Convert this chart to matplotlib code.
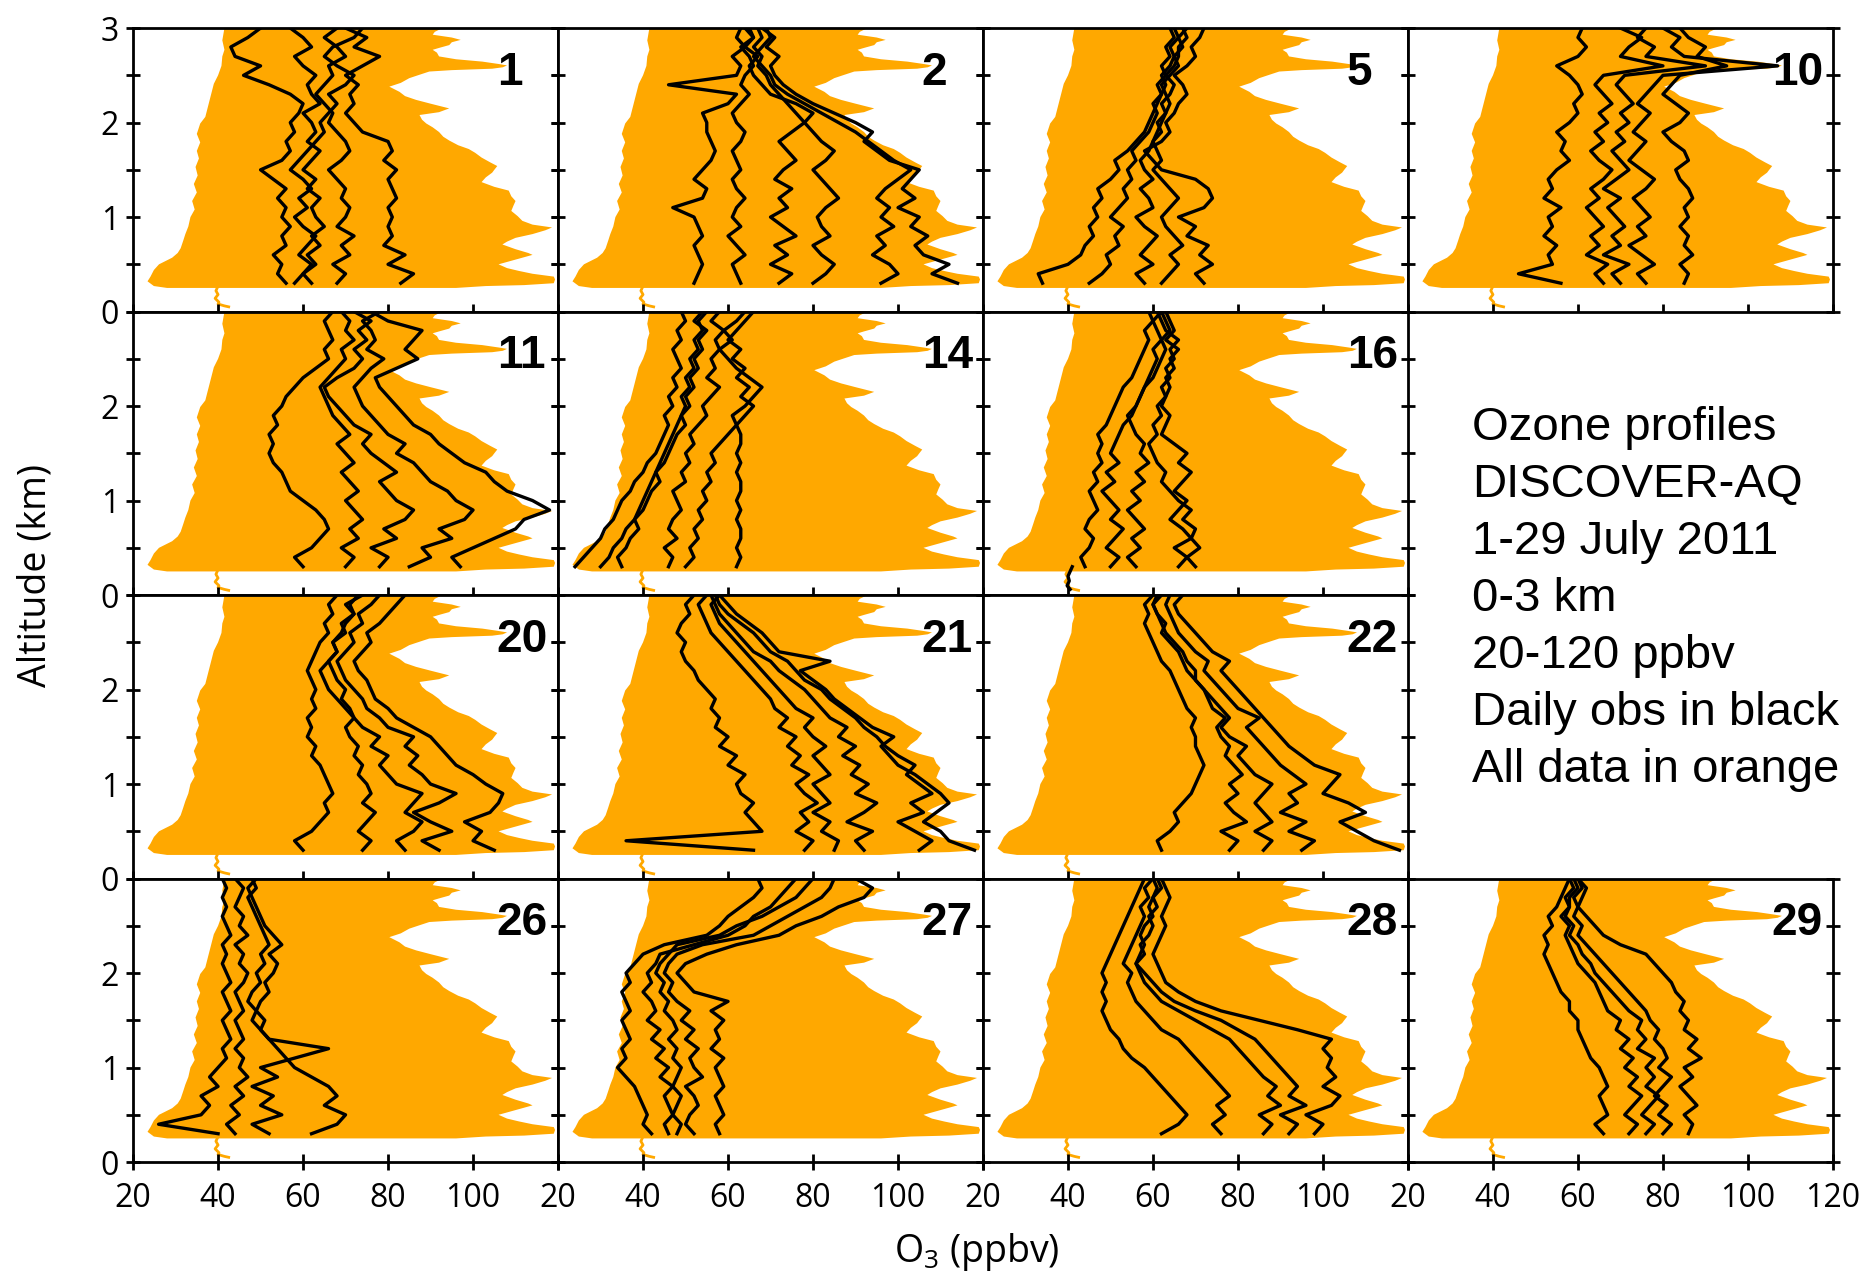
import matplotlib
matplotlib.use("Agg")
import matplotlib.pyplot as plt
from matplotlib.ticker import MultipleLocator

# ---------------- data ----------------
ALT = [0.3, 0.4, 0.5, 0.6, 0.7, 0.8, 0.9, 1.0, 1.1, 1.2, 1.3, 1.4, 1.5, 1.6,
       1.7, 1.8, 1.9, 2.0, 2.1, 2.2, 2.3, 2.4, 2.5, 2.6, 2.7, 2.8, 2.9, 3.0]

# all-data envelope (orange)
LEFT_ALT = [0.25, 0.27, 0.32, 0.37, 0.44, 0.50, 0.57, 0.62, 0.67, 0.75,
            0.82, 0.90, 1.00, 1.08, 1.17, 1.26, 1.35, 1.44, 1.53, 1.62,
            1.70, 1.79, 1.88, 1.99, 2.06, 2.13, 2.20, 2.27, 2.34, 2.41,
            2.50, 2.60, 2.70, 2.77, 2.87, 3.0]
LEFT_O3 = [28, 24.9, 23.4, 24.1, 24.9, 26.1, 29.2, 30.5, 31.2, 31.8,
           32.3, 33, 33.5, 34.5, 33.9, 35, 34.3, 35.2, 34.7, 35.5,
           35, 35.8, 35, 35.8, 37, 37.4, 37.8, 38.2, 38.6, 39,
           40, 40.8, 41, 41.5, 41, 41.5]
RIGHT_ALT = [3.0, 2.96, 2.93, 2.90, 2.875, 2.85, 2.82, 2.79, 2.77, 2.74, 2.70,
             2.67, 2.645, 2.62, 2.605, 2.585, 2.57, 2.555, 2.54, 2.50, 2.47,
             2.42, 2.38, 2.325, 2.28, 2.24, 2.20, 2.15, 2.11, 2.08, 2.03, 1.99,
             1.95, 1.90, 1.85, 1.81, 1.76, 1.72, 1.68, 1.63, 1.58, 1.54, 1.50,
             1.47, 1.42, 1.37, 1.32, 1.28, 1.22, 1.17, 1.12, 1.065, 1.01, 0.96,
             0.92, 0.89, 0.86, 0.82, 0.78, 0.74, 0.71, 0.66, 0.62, 0.60, 0.55,
             0.50, 0.46, 0.43, 0.40, 0.37, 0.34, 0.30, 0.28, 0.27, 0.25]
RIGHT_O3 = [92.8, 91, 90.5, 95, 97.1, 95, 94.4, 92, 90.5, 91.5, 92,
            96, 102.2, 106, 108, 107, 104.5, 95, 89.7, 87, 85,
            83, 80.3, 82.7, 84, 86.6, 90, 94.4, 92, 87.4, 88, 89,
            90.5, 92, 93, 94.4, 96.5, 99, 100.5, 102, 104, 105.7, 105,
            104.5, 103, 102, 105, 108.4, 109, 110, 109.5, 109, 110.5, 111.6,
            114, 118.6, 117, 114, 110, 108, 106.9, 110, 113, 114, 110,
            106, 108, 110.8, 114, 119, 119.3, 119, 112, 103, 96]
GROUND_ALT = [0.27, 0.22, 0.18, 0.14, 0.10, 0.08, 0.06, 0.05]
GROUND_O3 = [40, 39.5, 40, 39.3, 40.2, 40, 41.5, 42.5]

# daily profiles (black), values at ALT levels
DAY01 = [[56,54,55,53,56,55,57, 55,56,54,56,53,50,55, 57,56,58,57,59,60,57, 52,46,50,44,43,47,50],
         [62,60,63,61,64,62,65, 63,62,64,61,63,60,62, 64,61,63,62,60,64,62, 61,63,60,58,62,60,57],
         [68,70,67,71,69,72,68, 70,71,69,70,68,66,69, 71,70,68,66,67,65,63, 65,67,66,70,68,65,68],
         [83,86,80,84,79,81,80, 81,80,82,81,80,82,79, 81,80,74,72,70,72,71, 73,70,74,78,72,75,70],
         [58,60,62,59,61,63,60, 58,61,59,62,60,57,59, 61,63,65,64,66,68,66, 70,72,68,65,67,72,74]]
DAY02 = [[52,53,54,53,52,54,53, 52,47,54,55,52,54,56, 57,56,55,55,54,60,62, 46,62,63,61,64,62,63],
         [63,62,61,64,62,60,63, 61,62,64,62,61,63,62, 61,63,64,62,61,63,65, 63,64,66,65,63,66,64],
         [80,83,85,82,80,84,82, 81,83,86,84,82,80,83, 85,82,80,78,76,74,72, 70,69,67,68,66,68,67],
         [96,100,98,94,97,95,99, 96,98,95,97,100,103,99, 96,93,90,86,82,78,74, 71,70,68,66,68,70,69],
         [114,108,112,106,104,107,103, 105,100,104,101,103,105,98, 95,92,94,90,85,80,76, 73,71,70,72,69,71,68],
         [72,75,70,74,71,76,73, 70,74,72,75,71,73,76, 74,72,75,78,80,76,70, 68,66,65,67,64,66,65]]
DAY05 = [[34,33,40,43,44,46,45, 47,46,48,47,50,52,51, 54,56,58,59,60,61,62, 61,63,62,64,63,65,64],
         [45,48,50,49,52,51,53, 50,52,54,53,55,54,56, 55,57,59,60,61,60,62, 63,62,64,65,64,66,65],
         [58,56,60,57,59,61,58, 56,60,59,57,60,58,57, 59,60,62,61,63,64,63, 62,64,66,65,67,66,68],
         [72,70,74,71,73,68,70, 66,72,74,73,70,62,60, 58,62,64,63,65,66,68, 67,65,68,70,69,71,72],
         [62,64,66,64,67,65,63, 62,64,66,64,62,60,62, 61,60,61,62,63,62,64, 65,63,65,66,66,68,67]]
DAY10 = [[56,46,54,53,55,52,54, 53,56,52,54,53,55,58, 56,57,55,58,60,59,61, 60,58,55,60,62,60,61],
         [66,64,67,62,65,63,66, 64,62,65,63,66,68,65, 63,66,64,67,65,68,66, 64,66,80,70,72,75,70],
         [76,74,78,75,72,76,74, 77,75,73,76,78,75,72, 74,76,73,75,77,74,76, 78,80,107,85,82,84,80],
         [85,86,84,87,85,86,84, 86,85,87,86,84,83,86, 85,82,80,84,86,83,80, 82,84,95,88,90,86,84],
         [70,68,72,66,70,68,71, 69,67,70,66,69,72,70, 68,71,69,72,70,73,71, 69,71,90,76,78,74,76]]
DAY11 = [[60,58,62,64,66,65,63, 60,57,56,55,53,52,53, 52,54,53,55,56,58,60, 63,66,65,67,66,65,67],
         [70,72,69,73,71,74,72, 70,73,71,69,72,70,68, 71,69,67,66,65,64,66, 68,70,69,72,70,71,69],
         [85,90,88,95,92,98,100, 96,94,90,88,86,82,84, 80,78,76,74,73,72,74, 76,79,75,77,76,74,78],
         [97,95,100,105,110,112,118, 114,108,105,103,98,95,92, 90,86,84,82,80,78,77, 82,87,84,86,88,80,76],
         [78,80,76,82,79,84,86, 82,80,78,82,79,76,74, 76,72,70,68,66,65,68, 72,74,72,75,73,76,72]]
DAY14 = [[24,26,28,30,31,33,34, 35,37,38,40,41,43,44, 45,46,45,47,46,48,47, 49,48,47,49,48,50,49],
         [35,34,36,37,39,38,40, 41,42,44,43,45,46,47, 48,50,49,51,50,52,51, 53,52,54,53,55,52,54],
         [46,47,45,48,46,47,49, 48,47,50,49,51,50,52, 51,53,55,54,56,58,55, 57,56,58,57,59,56,58],
         [50,52,51,53,52,54,53, 55,54,56,55,57,56,58, 60,62,64,66,63,65,62, 64,61,63,60,62,64,66],
         [62,63,62,63,63,62,63, 62,63,63,62,63,62,63, 63,62,61,64,66,68,65, 62,60,58,61,59,62,64],
         [30,32,33,35,36,38,39, 40,41,42,43,44,45,46, 47,48,49,50,49,51,50, 52,51,53,52,54,53,55]]
DAY16 = [[44,43,45,46,44,45,47, 46,45,47,46,48,47,48, 47,49,50,51,52,53,55, 56,57,58,59,58,60,59],
         [56,54,57,55,58,56,54, 57,55,58,56,59,57,58, 56,55,54,56,57,58,59, 60,61,60,62,61,60,62],
         [66,68,65,69,67,64,66, 68,65,67,69,66,68,65, 62,63,64,62,63,64,63, 65,64,66,63,65,64,63],
         [70,68,71,69,70,67,69, 66,64,62,63,61,60,59, 61,60,62,61,63,62,64, 63,65,64,66,63,62,61],
         [50,52,49,51,53,50,52, 50,48,51,49,52,50,51, 52,53,55,56,57,58,60, 61,62,63,62,64,63,62]]
DAY16_GROUND_ALT = [0.30, 0.25, 0.20, 0.15, 0.10, 0.06]
DAY16_GROUND_O3 = [41, 40.5, 40, 40.3, 39.8, 40.5]
DAY20 = [[60,58,62,64,66,65,67, 66,65,64,62,63,61,62, 61,63,62,63,62,61,62, 63,64,66,65,67,66,68],
         [74,76,73,75,77,74,76, 75,73,74,72,73,71,70, 72,71,69,70,68,67,66, 68,67,69,70,72,71,73],
         [92,88,95,90,86,92,96, 90,88,85,87,84,86,80, 78,75,74,72,70,69,68, 70,72,71,74,73,76,78],
         [105,100,102,98,104,106,107, 103,100,96,94,92,90,86, 82,80,77,76,75,73,72, 74,76,75,78,80,82,84],
         [84,82,86,88,84,86,88, 82,80,78,80,76,78,74, 72,70,68,66,65,64,66, 68,67,70,69,72,70,74]]
DAY21 = [[66,36,68,66,64,66,63, 62,64,60,62,58,60,57, 58,56,57,55,53,52,50, 49,50,48,49,51,50,52],
         [78,80,76,79,77,81,78, 76,79,75,77,74,76,72, 74,71,70,68,66,64,62, 60,58,56,55,54,53,55],
         [92,90,94,88,92,95,90, 93,89,91,87,90,86,88, 84,82,80,78,75,72,70, 66,64,62,60,58,57,56],
         [105,108,104,100,106,103,108, 105,102,104,100,97,95,92, 90,87,84,82,78,76,74, 70,68,66,63,60,58,57],
         [118,112,110,106,109,112,110, 107,104,100,98,96,99,94, 91,88,85,83,80,77,84, 72,70,68,65,62,60,58],
         [85,86,82,84,80,84,82, 80,84,82,80,83,80,78, 80,76,74,72,70,68,66, 64,62,60,58,57,56,58]]
DAY22 = [[62,61,64,66,65,67,69, 70,71,72,71,70,70,69, 70,68,67,66,65,64,62, 61,60,59,58,59,58,60],
         [78,80,76,82,79,77,80, 78,81,79,77,78,76,75, 77,74,73,72,70,68,67, 66,64,62,63,61,60,62],
         [95,98,92,96,90,94,92, 96,93,90,88,86,84,82, 85,80,78,76,74,72,73, 70,68,66,65,64,63,64],
         [118,112,108,104,110,106,100, 102,104,98,95,92,90,88, 86,84,82,80,78,76,78, 74,72,70,68,66,65,67],
         [86,88,84,88,86,84,86, 88,84,82,80,82,78,76, 78,76,74,72,70,70,68, 67,65,63,62,61,60,61]]
DAY26 = [[40,26,36,38,36,40,38, 40,42,41,43,42,41,43, 42,41,43,42,41,42,41, 43,42,41,42,41,42,41],
         [44,42,45,43,46,44,47, 45,46,44,46,45,44,46, 45,44,46,47,45,46,44, 47,45,46,44,45,46,44],
         [52,48,55,50,53,48,54, 50,58,66,52,50,48,49, 47,48,50,49,51,50,52, 51,50,49,48,47,49,48],
         [62,68,70,65,68,66,62, 58,56,54,52,50,51,49, 50,52,51,53,54,52,55, 53,51,50,49,48,47,49]]
DAY27 = [[42,40,41,40,39,38,36, 34,36,35,37,36,35,37, 36,35,37,36,38,40,45, 55,58,60,63,66,68,67],
         [46,45,47,46,45,47,44, 46,43,45,42,44,41,43, 42,40,42,41,43,44,52, 60,64,66,70,72,74,76],
         [52,50,51,53,52,50,54, 52,51,53,50,52,49,51, 48,46,47,45,46,48,54, 66,70,74,78,82,84,85],
         [58,57,59,58,57,59,58, 57,59,56,58,57,59,56, 60,52,50,48,50,55,62, 72,76,82,86,92,94,90],
         [48,49,47,48,49,47,48, 49,47,48,46,48,47,45, 46,44,45,43,44,46,48, 58,62,68,72,76,78,80]]
DAY28 = [[62,66,68,66,64,62,60, 58,55,53,52,50,49,48, 49,48,49,48,49,50,51, 52,53,54,55,56,57,58],
         [76,74,77,75,78,76,74, 72,70,68,66,62,60,58, 56,55,54,55,53,54,55, 56,57,58,57,59,58,60],
         [86,88,85,90,87,89,86, 84,82,80,78,74,70,66, 62,60,58,57,56,58,57, 59,60,59,61,60,62,61],
         [98,100,96,102,104,100,103, 101,102,100,102,94,85,76, 70,66,63,62,61,60,61, 62,63,62,63,64,63,62],
         [92,94,90,96,92,94,92, 90,88,86,84,80,76,70, 65,62,60,58,56,57,58, 57,58,60,59,60,61,60]]
DAY29 = [[66,64,67,66,65,67,66, 65,63,62,61,60,60,58, 58,56,55,54,53,52,53, 52,54,53,55,56,57,58],
         [72,74,71,73,75,72,74, 71,73,70,72,69,70,67, 66,65,64,62,60,59,58, 57,58,56,58,57,59,58],
         [80,82,79,81,78,80,82, 79,81,80,78,79,77,76, 74,72,70,68,66,64,62, 60,61,59,60,59,61,60],
         [86,87,85,88,86,84,87, 85,89,86,88,85,86,84, 85,83,82,80,78,76,70, 66,64,62,60,61,62,60],
         [76,78,75,77,79,76,78, 76,78,74,76,74,75,72, 70,68,66,64,63,61,60, 58,59,57,58,58,60,59]]

DAY_NAMES = ["1", "2", "5", "10", "11", "14", "16", "20", "21", "22", "26", "27", "28", "29"]
DAY_CELLS = [(0, 0), (0, 1), (0, 2), (0, 3), (1, 0), (1, 1), (1, 2),
             (2, 0), (2, 1), (2, 2), (3, 0), (3, 1), (3, 2), (3, 3)]
DAY_DATA = [DAY01, DAY02, DAY05, DAY10, DAY11, DAY14, DAY16,
            DAY20, DAY21, DAY22, DAY26, DAY27, DAY28, DAY29]
X_TICKS = [20, 40, 60, 80, 100, 120]
Y_TICKS = [0, 1, 2, 3]

INFO_LINES = ["Ozone profiles", "DISCOVER-AQ", "1-29 July 2011", "0-3 km",
              "20-120 ppbv", "Daily obs in black", "All data in orange"]

# ---------------- figure ----------------
plt.rcParams["font.family"] = ["Open Sans", "DejaVu Sans"]
plt.rcParams["mathtext.fontset"] = "custom"
plt.rcParams["mathtext.rm"] = "Open Sans"
plt.rcParams["mathtext.it"] = "Open Sans"

ORANGE = "#FFA800"
fig = plt.figure(figsize=(18.69, 12.76), dpi=100)
gs = fig.add_gridspec(4, 4, left=0.0712, right=0.9807, top=0.978, bottom=0.0893,
                      hspace=0, wspace=0)

axes = {}
for r in range(4):
    for c in range(4):
        axes[(r, c)] = fig.add_subplot(gs[r, c])

for (r, c), ax in axes.items():
    if (r, c) in [(1, 3), (2, 3)]:
        ax.axis("off")
        continue
    ax.set_xlim(20, 120)
    ax.set_ylim(0, 3)
    for s in ax.spines.values():
        s.set_linewidth(2.0)
    ax.set_xticks(X_TICKS)
    ax.set_yticks(Y_TICKS)
    ax.yaxis.set_minor_locator(MultipleLocator(0.5))
    ax.tick_params(axis="y", which="both", direction="inout", length=10, width=2,
                   left=True, right=True, labelsize=23, pad=5)
    if r == 3:
        ax.tick_params(axis="x", which="both", direction="inout", length=11, width=2,
                       top=False, labelsize=23, pad=9)
        labels = [str(t) for t in X_TICKS]
        if c < 3:
            labels[-1] = ""
        ax.set_xticklabels(labels)
    else:
        ax.tick_params(axis="x", which="both", direction="in", length=6, width=2,
                       top=False, labelbottom=False)
    if c == 0:
        ylabels = [str(t) for t in Y_TICKS]
        if r > 0:
            ylabels[-1] = ""
        ax.set_yticklabels(ylabels)
    else:
        ax.tick_params(axis="y", labelleft=False)

for name, cell, profiles in zip(DAY_NAMES, DAY_CELLS, DAY_DATA):
    ax = axes[cell]
    ax.fill(LEFT_O3 + RIGHT_O3, LEFT_ALT + RIGHT_ALT, color=ORANGE, lw=0, zorder=1)
    ax.plot(GROUND_O3, GROUND_ALT, color=ORANGE, lw=2.0, zorder=1)
    for prof in profiles:
        ax.plot(prof, ALT, color="black", lw=2.4, zorder=3)
    if name == "16":
        ax.plot(DAY16_GROUND_O3, DAY16_GROUND_ALT, color="black", lw=2.4, zorder=3)
    ax.text(0.856, 0.80, name, transform=ax.transAxes, ha="left", va="baseline",
            fontsize=33, fontweight="bold", family=["Liberation Sans", "DejaVu Sans"],
            zorder=5)

# info text block
for i, line in enumerate(INFO_LINES):
    y_px = 440 + 57 * i
    fig.text(1472 / 1869, 1 - y_px / 1276, line, ha="left", va="baseline",
             fontsize=34, family=["Liberation Sans", "DejaVu Sans"])

fig.text(36 / 1869, 0.549, "Altitude (km)", rotation=90, ha="center", va="center",
         fontsize=27)
fig.text(977 / 1869, 0.019, "O$_3$ (ppbv)", ha="center", va="center", fontsize=27)

fig.savefig("out.png", dpi=100)
